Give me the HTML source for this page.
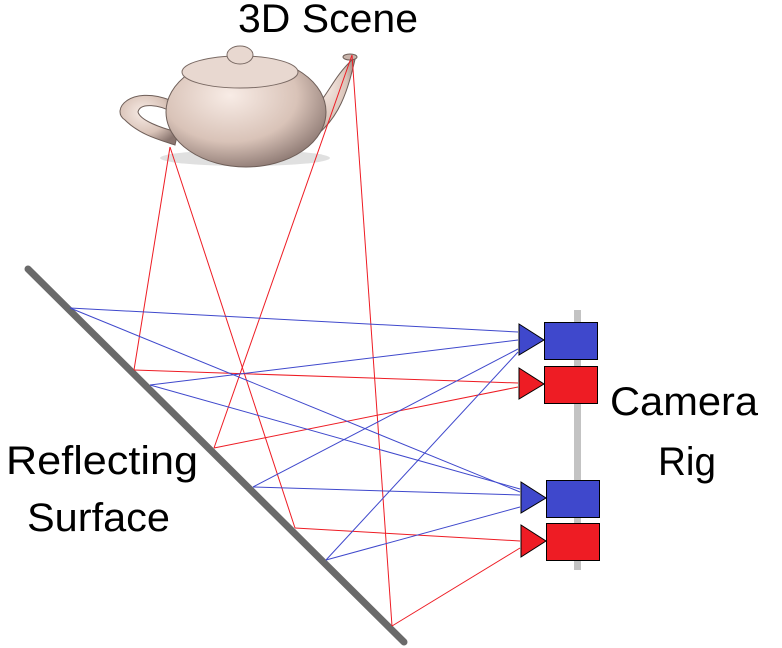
<!DOCTYPE html>
<html><head><meta charset="utf-8"><style>
html,body{margin:0;padding:0;background:#fff;}
svg{display:block;}
text{font-family:"Liberation Sans","DejaVu Sans",sans-serif;font-size:40px;fill:#000;}
</style></head><body>
<svg width="782" height="648" viewBox="0 0 782 648">
<defs>
<radialGradient id="tp" cx="0.4" cy="0.35" r="0.7">
<stop offset="0" stop-color="#f8ece6"/><stop offset="0.6" stop-color="#d9c3b8"/><stop offset="1" stop-color="#8a7670"/>
</radialGradient>
</defs>
<!-- teapot -->
<ellipse cx="245" cy="158" rx="85" ry="8" fill="#ccc" opacity="0.6"/>
<path d="M170 100 C130 85 110 110 125 120 C140 135 160 140 175 145 L178 132 C160 128 140 120 138 112 C140 102 160 105 172 112 Z" fill="url(#tp)" stroke="#6e5e58" stroke-width="1"/>
<path d="M305 115 C325 105 330 80 352 60 L356 55 C348 90 340 120 310 140 Z" fill="url(#tp)" stroke="#6e5e58" stroke-width="1"/>
<ellipse cx="246" cy="112" rx="80" ry="55" fill="url(#tp)" stroke="#6e5e58" stroke-width="1"/>
<ellipse cx="240" cy="72" rx="58" ry="16" fill="#e8d8d0" stroke="#7a6a64" stroke-width="1"/>
<ellipse cx="240" cy="55" rx="13" ry="9" fill="#e8d8d0" stroke="#7a6a64" stroke-width="1"/>
<ellipse cx="350" cy="57" rx="7" ry="3" fill="#c8b4ab" stroke="#6e5e58"/>
<rect x="574" y="310" width="7" height="260" fill="#c3c3c3"/>
<line x1="28" y1="269" x2="404" y2="642" stroke="#6a6a6a" stroke-width="7" stroke-linecap="round"/>
<g stroke="#ee1c24" stroke-width="1" fill="none">
<line x1="170" y1="147" x2="134" y2="370"/>
<line x1="170" y1="147" x2="295" y2="528"/>
<line x1="352" y1="55" x2="214" y2="448"/>
<line x1="352" y1="55" x2="392" y2="626"/>
<line x1="134" y1="370" x2="518" y2="383"/>
<line x1="214" y1="448" x2="518" y2="387"/>
<line x1="295" y1="528" x2="520" y2="541"/>
<line x1="392" y1="626" x2="520" y2="548"/>
</g>
<g stroke="#3f48cc" stroke-width="1" fill="none">
<line x1="70" y1="308" x2="518" y2="332"/>
<line x1="70" y1="308" x2="520" y2="492"/>
<line x1="150" y1="385" x2="518" y2="340"/>
<line x1="150" y1="385" x2="520" y2="489"/>
<line x1="253" y1="487" x2="518" y2="349"/>
<line x1="253" y1="487" x2="520" y2="495"/>
<line x1="326" y1="560" x2="518" y2="352"/>
<line x1="326" y1="560" x2="520" y2="507"/>
</g>
<g stroke="#000" stroke-width="1">
<polygon points="519,324 519,355 544,340" fill="#3f48cc"/>
<rect x="544.5" y="322.5" width="53" height="37" fill="#3f48cc"/>
<polygon points="519,368 519,399 544,384" fill="#ee1c24"/>
<rect x="544.5" y="366.5" width="53" height="37" fill="#ee1c24"/>
<polygon points="521,482 521,513 546,498" fill="#3f48cc"/>
<rect x="546.5" y="480.5" width="53" height="37" fill="#3f48cc"/>
<polygon points="521,525 521,557 546,541" fill="#ee1c24"/>
<rect x="546.5" y="523.5" width="53" height="37" fill="#ee1c24"/>
</g>
<text x="238" y="32" textLength="180" lengthAdjust="spacingAndGlyphs">3D Scene</text>
<text x="6" y="474" textLength="192" lengthAdjust="spacingAndGlyphs">Reflecting</text>
<text x="27" y="531" textLength="143" lengthAdjust="spacingAndGlyphs">Surface</text>
<text x="610" y="415" textLength="148" lengthAdjust="spacingAndGlyphs">Camera</text>
<text x="658" y="475" textLength="58" lengthAdjust="spacingAndGlyphs">Rig</text>
</svg>
</body></html>
